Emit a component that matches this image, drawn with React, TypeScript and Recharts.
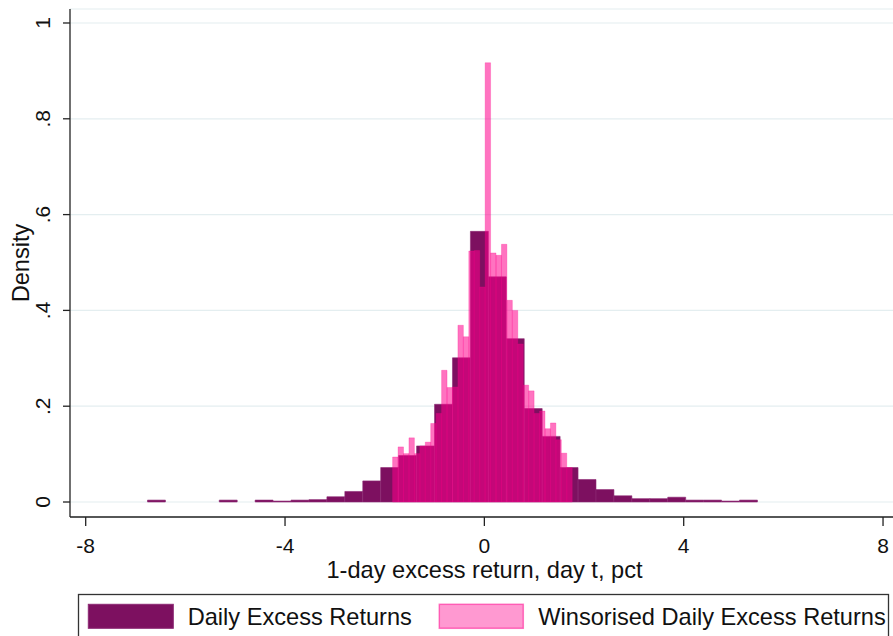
import React from 'react'
import {
  ComposedChart,
  XAxis,
  YAxis,
  CartesianGrid,
  ReferenceArea,
} from 'recharts'

// Daily excess returns histogram (bin width 0.36, starting at -6.76)
const dailyStart = -6.76
const dailyWidth = 0.36
const dailyDensity = [
  0.004, 0, 0, 0, 0.004, 0, 0.004, 0.002, 0.004, 0.005, 0.011, 0.022,
  0.044, 0.072, 0.097, 0.117, 0.204, 0.301, 0.565, 0.47, 0.341, 0.195,
  0.137, 0.072, 0.047, 0.026, 0.013, 0.007, 0.007, 0.01, 0.004, 0.004,
  0.002, 0.004,
]

// Winsorised daily excess returns histogram (narrower bins)
const winsStart = -1.841
const winsWidth = 0.1092
const winsDensity = [
  0.094, 0.115, 0.101, 0.134, 0.101, 0.117, 0.125, 0.164, 0.185, 0.275,
  0.239, 0.24, 0.369, 0.345, 0.524, 0.525, 0.449, 0.917, 0.52, 0.515,
  0.538, 0.421, 0.4, 0.33, 0.244, 0.232, 0.185, 0.19, 0.153, 0.165,
  0.13, 0.102, 0.072,
]

const xTicks = [-8, -4, 0, 4, 8]
const yTicks = [0, 0.2, 0.4, 0.6, 0.8, 1]
const yTickLabels = ['0', '.2', '.4', '.6', '.8', '1']

const seriesNames = ['Daily Excess Returns', 'Winsorised Daily Excess Returns']

const DARK = '#7d1060'
const PINK = '#ff008c'
const FONT = '"Liberation Sans", Arial, sans-serif'

interface Bin {
  x0: number
  x1: number
  density: number
}

function toBins(start: number, width: number, values: number[]): Bin[] {
  return values.map((d, i) => ({
    x0: start + i * width,
    x1: start + (i + 1) * width,
    density: d,
  }))
}

const dailyBins = toBins(dailyStart, dailyWidth, dailyDensity)
const winsBins = toBins(winsStart, winsWidth, winsDensity)

function XTick(props: any) {
  const { x, y, payload } = props
  return (
    <text x={x} y={y + 25} textAnchor="middle" fontSize={21} fill="#111" fontFamily={FONT}>
      {payload.value}
    </text>
  )
}

function YTick(props: any) {
  const { x, y, payload } = props
  const idx = yTicks.indexOf(payload.value)
  const bx = x - 11
  return (
    <text
      x={bx}
      y={y}
      transform={`rotate(-90 ${bx} ${y})`}
      textAnchor="middle"
      fontSize={21}
      fill="#111"
      fontFamily={FONT}
    >
      {idx >= 0 ? yTickLabels[idx] : payload.value}
    </text>
  )
}

function XLabel(props: any) {
  const { viewBox } = props
  const cx = viewBox.x + viewBox.width / 2 + 3
  return (
    <text x={cx} y={viewBox.y + 61} textAnchor="middle" fontSize={23.6} fill="#111" fontFamily={FONT}>
      1-day excess return, day t, pct
    </text>
  )
}

function YLabel(props: any) {
  const { viewBox } = props
  const cy = viewBox.y + viewBox.height / 2
  return (
    <text
      x={29}
      y={cy}
      transform={`rotate(-90 29 ${cy})`}
      textAnchor="middle"
      fontSize={23.6}
      fill="#111"
      fontFamily={FONT}
    >
      Density
    </text>
  )
}

export default function App() {
  return (
    <div
      style={{
        position: 'absolute',
        left: 0,
        top: 0,
        width: 893,
        height: 636,
        background: '#fff',
        overflow: 'hidden',
        fontFamily: FONT,
      }}
    >
      <ComposedChart
        width={893}
        height={636}
        data={dailyBins}
        margin={{ top: 9, right: 0, bottom: 0, left: 0 }}
      >
        <CartesianGrid vertical={false} stroke="#e4eef0" strokeWidth={1.2} />
        <XAxis
          type="number"
          dataKey="x0"
          domain={[-8.315, 8.2]}
          allowDataOverflow
          ticks={xTicks}
          interval={0}
          height={119}
          tickSize={9}
          axisLine={{ stroke: '#222', strokeWidth: 1.3 }}
          tickLine={{ stroke: '#222', strokeWidth: 1.3 }}
          tick={<XTick />}
          label={<XLabel />}
        />
        <YAxis
          type="number"
          domain={[-0.0313, 1.0292]}
          allowDataOverflow
          ticks={yTicks}
          interval={0}
          width={70}
          tickSize={7}
          axisLine={{ stroke: '#222', strokeWidth: 1.3 }}
          tickLine={{ stroke: '#222', strokeWidth: 1.3 }}
          tick={<YTick />}
          label={<YLabel />}
        />
        {dailyBins
          .filter((b) => b.density > 0)
          .map((b, i) => (
            <ReferenceArea
              key={`d${i}`}
              x1={b.x0}
              x2={b.x1}
              y1={0}
              y2={b.density}
              fill={DARK}
              fillOpacity={1}
              stroke="#8d2a74"
              strokeWidth={0.6}
              ifOverflow="visible"
            />
          ))}
        {winsBins.map((b, i) => (
          <ReferenceArea
            key={`w${i}`}
            x1={b.x0}
            x2={b.x1}
            y1={0}
            y2={b.density}
            fill={PINK}
            fillOpacity={0.55}
            stroke={PINK}
            strokeOpacity={0.35}
            strokeWidth={0.7}
            ifOverflow="visible"
          />
        ))}
      </ComposedChart>
      <svg
        width={893}
        height={636}
        style={{ position: 'absolute', left: 0, top: 0, pointerEvents: 'none' }}
      >
        <rect x={78.5} y={594.5} width={810} height={60} fill="#fff" stroke="#333" strokeWidth={1.3} />
        <rect x={88.3} y={604.3} width={85} height={24} fill={DARK} stroke="#8d2a74" strokeWidth={1} />
        <text x={187.7} y={625} fontSize={23.6} fill="#111" fontFamily={FONT}>
          {seriesNames[0]}
        </text>
        <rect
          x={439.3}
          y={604.3}
          width={84}
          height={24}
          fill={PINK}
          fillOpacity={0.4}
          stroke={PINK}
          strokeOpacity={0.5}
          strokeWidth={1.5}
        />
        <text x={538.3} y={625} fontSize={23.6} fill="#111" fontFamily={FONT}>
          {seriesNames[1]}
        </text>
      </svg>
    </div>
  )
}
